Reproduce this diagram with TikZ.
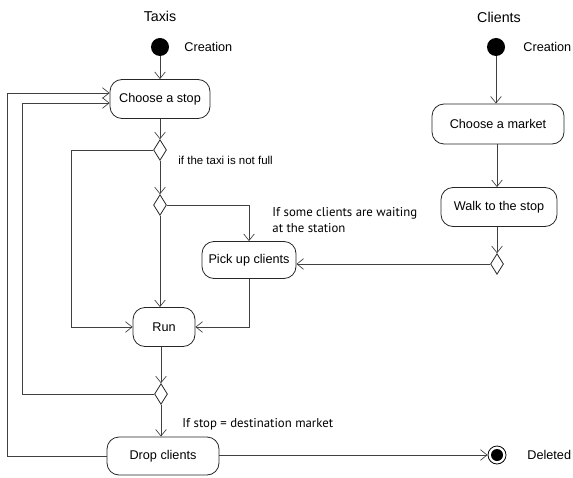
\documentclass[tikz,border=0pt]{standalone}
\usepackage{fontspec}
\setmainfont{Liberation Sans}
\newfontfamily\guardfont{PT Sans}
\usetikzlibrary{arrows.meta,shapes.geometric}
\begin{document}
\begin{tikzpicture}[x=0.75pt,y=-0.75pt,
  font=\fontsize{9.5}{11}\selectfont,
  line width=0.6pt,
  conn/.style={draw=black!75},
  arr/.style={conn,-{Straight Barb[length=5pt,width=8pt,line width=0.5pt]}},
  act/.style={draw=black!85,rounded corners=9pt,inner sep=0pt,align=center},
  dec/.style={diamond,draw=black!85,fill=white,inner sep=0pt,minimum width=9.75pt,minimum height=15.5pt},
  startst/.style={circle,fill=black,inner sep=0pt,minimum size=13.5pt},
  title/.style={font=\fontsize{10.7}{12}\selectfont},
  lbl/.style={anchor=west,inner sep=0pt},
  guard/.style={font=\guardfont\fontsize{9.6}{12}\selectfont,anchor=west,inner sep=0pt,align=left},
  cond/.style={font=\fontsize{8.6}{10}\selectfont,anchor=west,inner sep=0pt}]
\useasboundingbox (0,0) rectangle (573,477);
\begin{scope}
\clip (0,0) rectangle (573,477);
% titles
\node[title] (ttaxi) at (160,16) {Taxis};
\node[title] (tcli) at (499,17) {Clients};
% taxi column
\node[startst] (ts) at (160,47) {};
\node[lbl] (tscr) at (184,47) {Creation};
\node[act,minimum width=75pt,minimum height=29.25pt] (choose) at (160,99) {Choose a stop};
\node[dec] (d1) at (160,150) {};
\node[cond] (c1) at (178,160) {if the taxi is not full};
\node[dec] (d2) at (160,205) {};
\node[guard] (g1) at (272,220) {If some clients are waiting\\at the station};
\node[act,minimum width=70.5pt,minimum height=27.75pt] (pick) at (249,260) {Pick up clients};
\node[act,minimum width=46.5pt,minimum height=29.25pt] (run) at (164,327) {Run};
\node[dec] (d3) at (161,394) {};
\node[guard] (g2) at (182,424) {If stop = destination market};
\node[act,minimum width=84pt,minimum height=28.5pt] (drop) at (163,456) {Drop clients};
\node[circle,draw=black,line width=0.6pt,inner sep=0pt,minimum size=13.5pt] (endc) at (497,455) {};
\node[circle,fill=black,inner sep=0pt,minimum size=9pt] (endin) at (endc) {};
\node[lbl] (del) at (527,455) {Deleted};
% clients column
\node[startst] (cs) at (496,47) {};
\node[lbl] (cscr) at (523,47) {Creation};
\node[act,minimum width=99pt,minimum height=30pt] (market) at (498,124) {Choose a market};
\node[act,minimum width=87pt,minimum height=29.25pt] (walk) at (499,207) {Walk to the stop};
\node[dec] (d4) at (497,264) {};
% connectors
\draw[arr] (ts) -- (choose.north);
\draw[arr] (choose) -- (d1.north);
\draw[arr] (d1) -- (d2.north);
\draw[arr] (d1.west) -- (71,150) |- (run.west);
\draw[arr] (d2.east) -| (pick.north);
\draw[arr] (d2.south) -- (d2.south |- run.north);
\draw[arr] (pick.south) -- (pick.south |- run.east) -- (run.east);
\draw[arr] (d3.north |- run.south) -- (d3.north);
\draw[arr] (d3.west) -- (22,394) |- ([yshift=-3pt]choose.west);
\draw[arr] (d3.south) -- (d3.south |- drop.north);
\draw[arr] (drop.west) -- (7,456) |- ([yshift=4.5pt]choose.west);
\draw[arr] (drop.east |- endc.west) -- (endc.west);
\draw[arr] (cs) -- (cs |- market.north);
\draw[arr] (market.south -| d4) -- (d4 |- walk.north);
\draw[arr] (walk.south -| d4) -- (d4.north);
\draw[arr] (d4.west) -- (d4.west -| pick.east);
\end{scope}
\end{tikzpicture}
\end{document}
